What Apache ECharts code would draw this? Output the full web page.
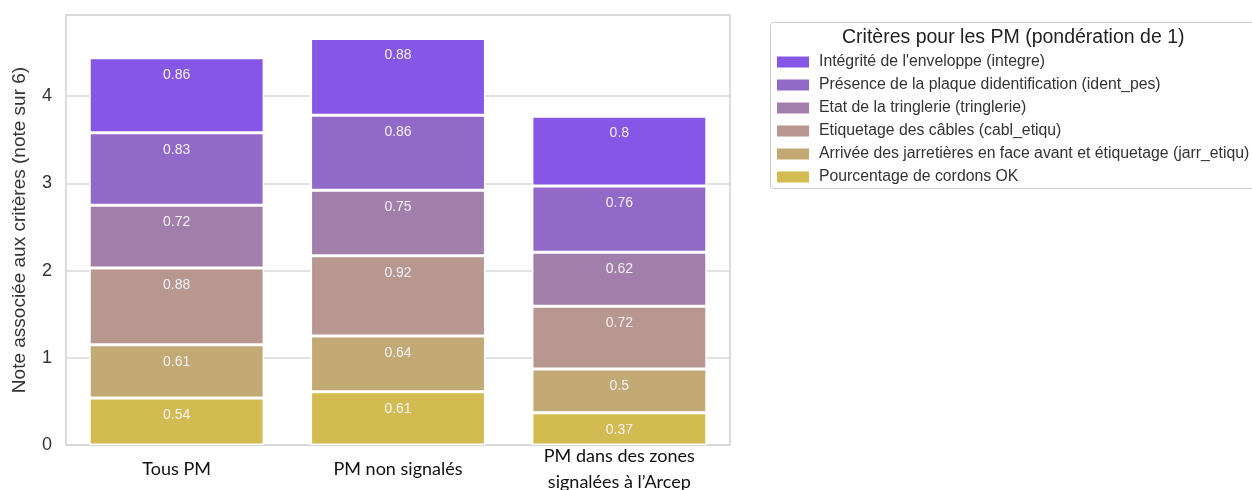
<!DOCTYPE html>
<html><head><meta charset="utf-8">
<script src="https://cdn.jsdelivr.net/npm/echarts@6/dist/echarts.min.js"></script>
<style>html,body{margin:0;padding:0;background:#fff}#c{width:1252px;height:490px}</style>
</head><body><div id="c"></div>
<script>
const categories = ['Tous PM', 'PM non signalés', 'PM dans des zones\nsignalées à l\u2019Arcep'];
const seriesNames = [
  "Pourcentage de cordons OK",
  "Arrivée des jarretières en face avant et étiquetage (jarr_etiqu)",
  "Etiquetage des câbles (cabl_etiqu)",
  "Etat de la tringlerie (tringlerie)",
  "Présence de la plaque didentification (ident_pes)",
  "Intégrité de l'enveloppe (integre)"
];
const cordons = [0.54, 0.61, 0.37];
const jarrEtiqu = [0.61, 0.64, 0.5];
const cablEtiqu = [0.88, 0.92, 0.72];
const tringlerie = [0.72, 0.75, 0.62];
const identPes = [0.83, 0.86, 0.76];
const integre = [0.86, 0.88, 0.8];
const yTicks = [0, 1, 2, 3, 4];
const legendTitle = 'Critères pour les PM (pondération de 1)';
const yTitle = 'Note associée aux critères (note sur 6)';

const values = [cordons, jarrEtiqu, cablEtiqu, tringlerie, identPes, integre];
const colors = ['#D2BC52', '#C3A973', '#B7978F', '#A27FAA', '#9169C9', '#8656E6'];
const FF = '"Liberation Sans", Arial, sans-serif';

const chart = echarts.init(document.getElementById('c'));
chart.setOption({
  animation: false,
  textStyle: {fontFamily: FF},
  grid: {left: 66, right: 522, top: 15, bottom: 45, show: true, borderColor: '#cfcfcf', borderWidth: 1.5,
    outerBoundsMode: 'none', containLabel: false},
  xAxis: {
    type: 'category', data: categories,
    axisLine: {show: false}, axisTick: {show: false},
    axisLabel: {fontFamily: 'Lato, "Open Sans", sans-serif', fontSize: 18, color: '#111', margin: 24,
      interval: 0, lineHeight: 26, verticalAlign: 'middle'}
  },
  yAxis: {
    type: 'value', min: 0, max: 4.93, interval: 1,
    name: yTitle, nameLocation: 'middle', nameGap: 37,
    nameTextStyle: {fontSize: 19, color: '#333', fontFamily: FF},
    axisLabel: {fontSize: 18, color: '#333', margin: 14, showMaxLabel: false, fontFamily: FF,
      formatter: v => yTicks.includes(v) ? String(v) : ''},
    axisLine: {show: false}, axisTick: {show: false},
    splitLine: {lineStyle: {color: '#d8d8d8', width: 1.5}}
  },
  legend: {
    orient: 'vertical', left: 770, top: 49,
    itemWidth: 34, itemHeight: 13, itemGap: 7,
    data: seriesNames.slice().reverse(),
    textStyle: {fontSize: 15.8, color: '#333', padding: [0, 0, 0, 4], fontFamily: FF},
    icon: 'rect'
  },
  graphic: [
    {type: 'rect', left: 770, top: 22, shape: {width: 500, height: 166, r: 3},
      style: {fill: '#fff', stroke: '#cccccc', lineWidth: 1}, z: -10},
    {type: 'text', left: 842, top: 28, style: {text: legendTitle, fontSize: 19.5, fill: '#222', fontFamily: FF}}
  ],
  series: seriesNames.map((n, i) => ({
    name: n, type: 'bar', stack: 'total', data: values[i], barWidth: '79%',
    itemStyle: {color: colors[i], borderColor: '#fff', borderWidth: 1.5},
    label: {show: true, position: 'insideTop', distance: 10, fontSize: 14, color: '#f4f0f8', fontFamily: FF}
  }))
});
</script></body></html>
